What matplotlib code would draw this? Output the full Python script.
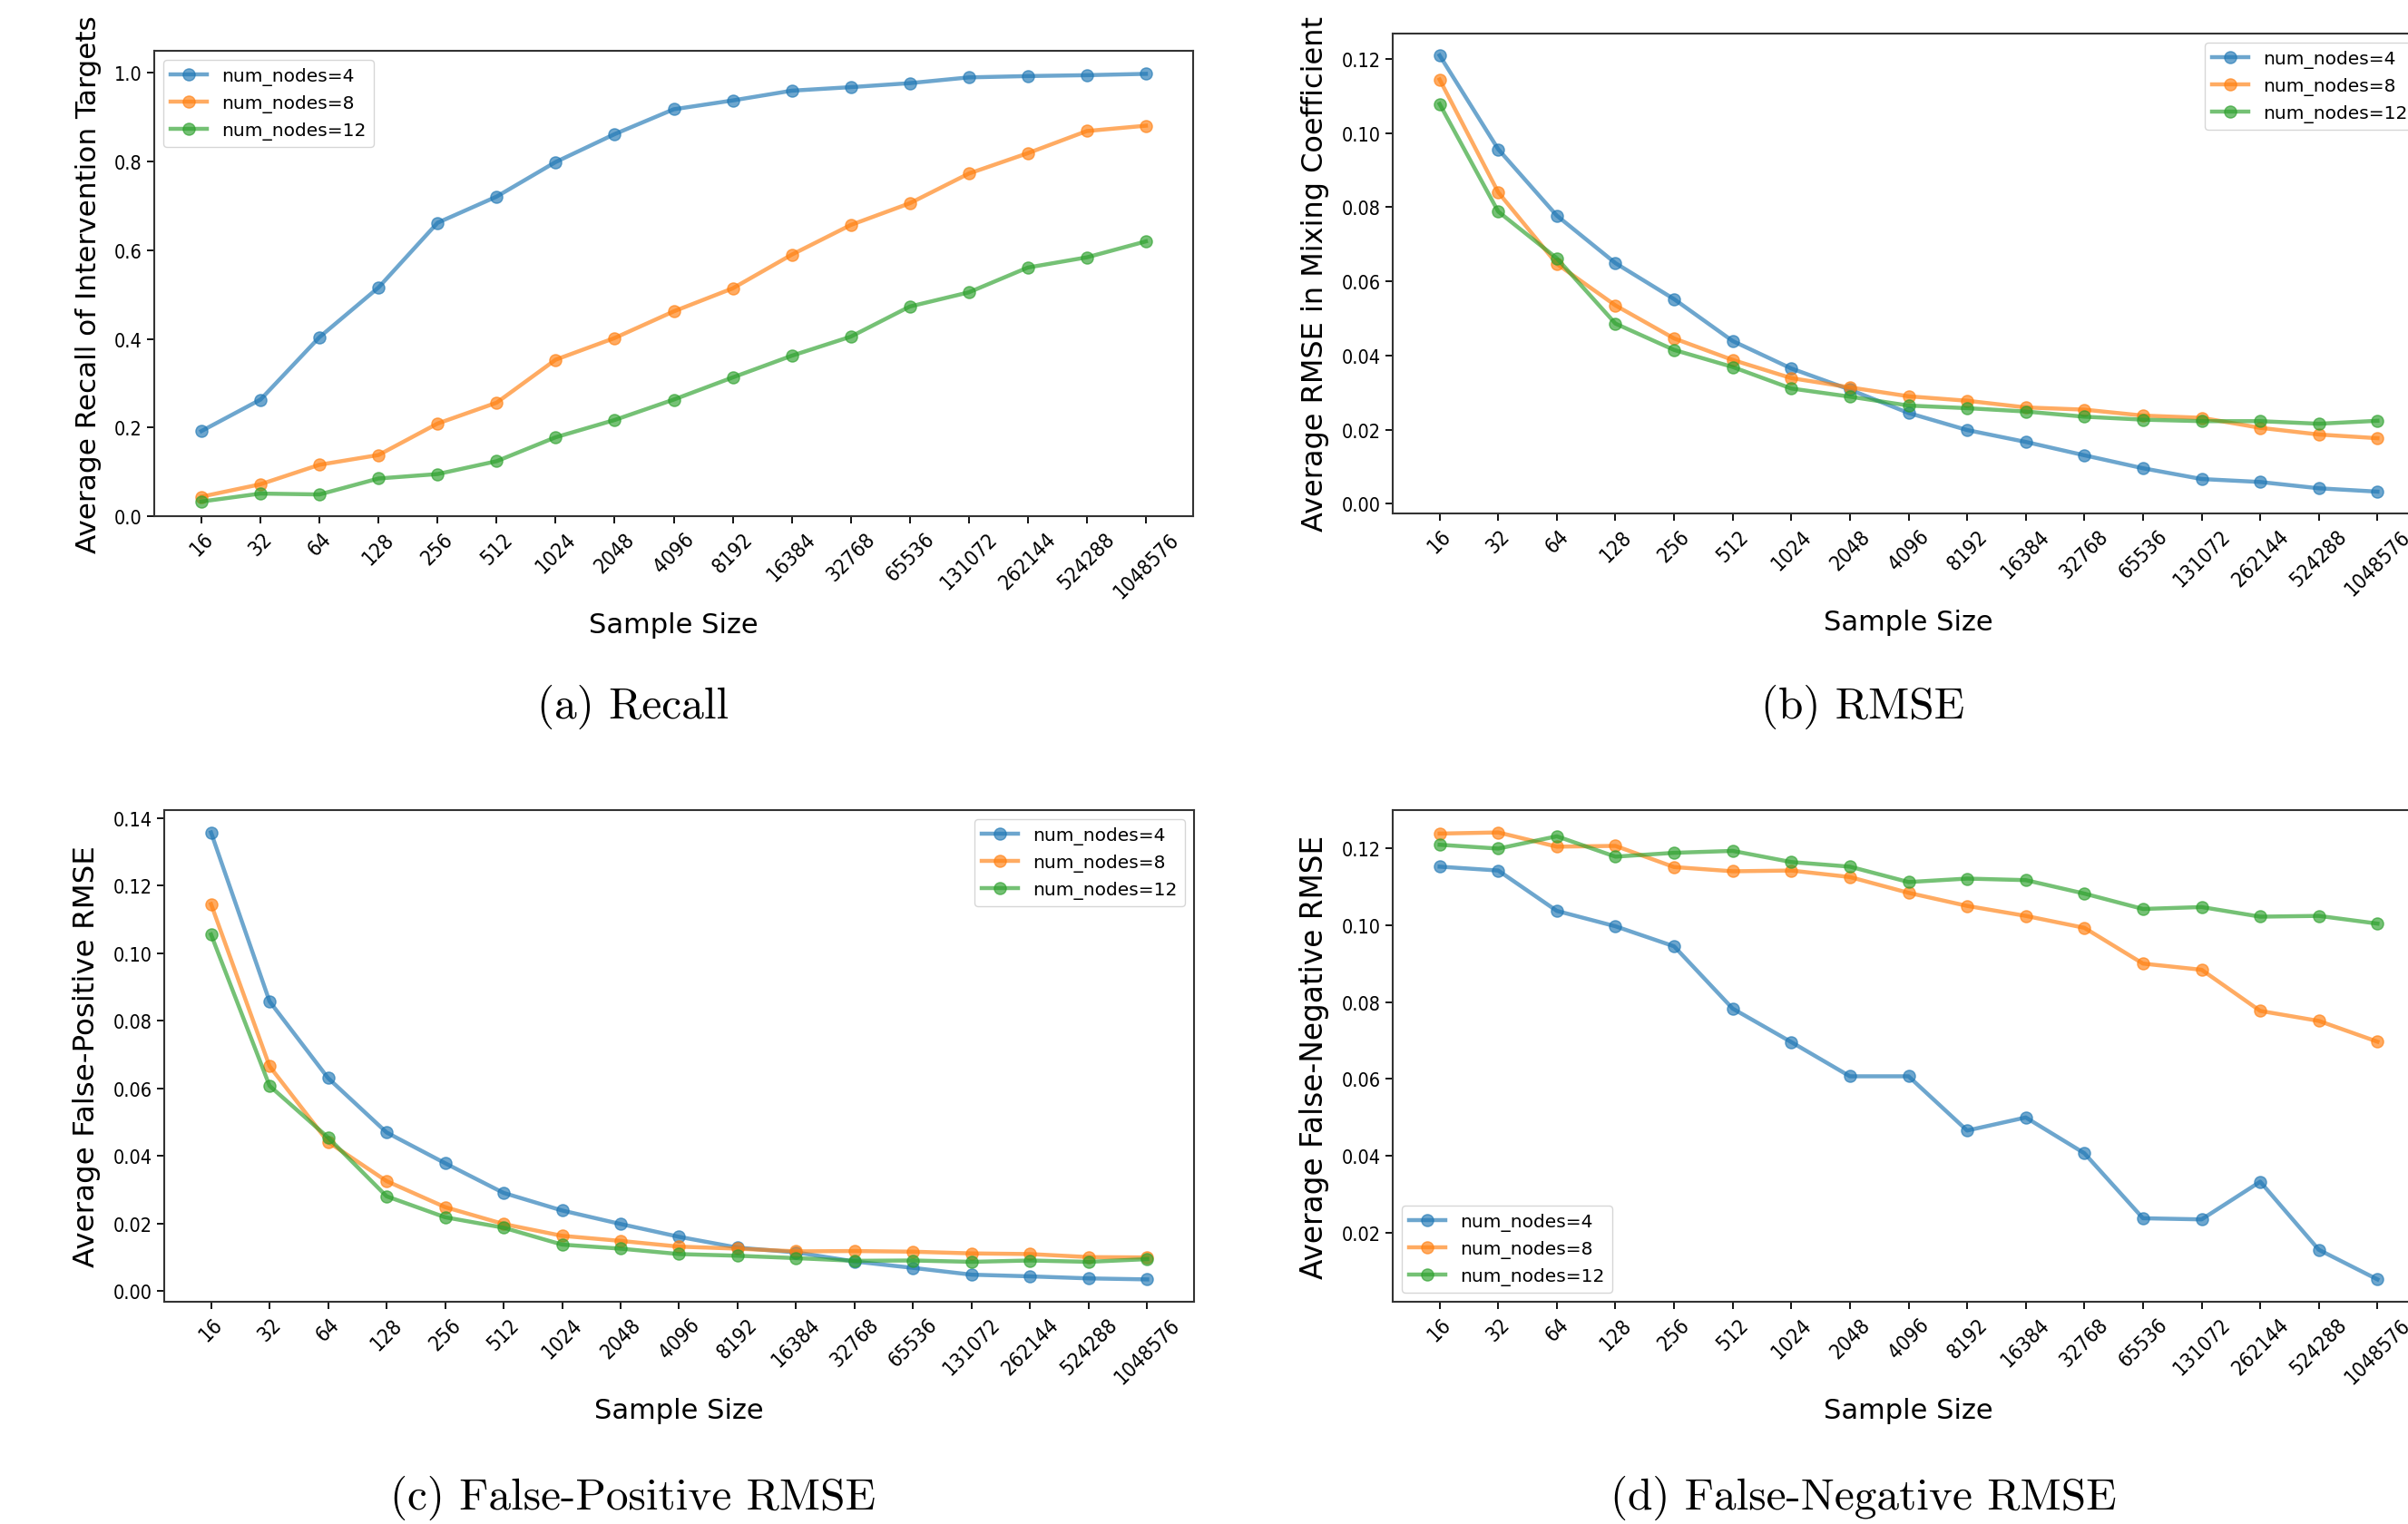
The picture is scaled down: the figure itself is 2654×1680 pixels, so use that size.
import matplotlib
matplotlib.use("Agg")
import matplotlib.pyplot as plt

plt.rcParams['font.family'] = ['DejaVu Sans']
# tick labels in the source look a bit narrow
plt.rcParams['font.stretch'] = 'condensed'

# sample sizes (categorical x axis)
sample_sizes = ['16', '32', '64', '128', '256', '512', '1024', '2048', '4096', '8192',
                '16384', '32768', '65536', '131072', '262144', '524288', '1048576']
series_labels = ['num_nodes=4', 'num_nodes=8', 'num_nodes=12']

# (a) recall
recall_4 = [0.192, 0.263, 0.404, 0.516, 0.662, 0.721, 0.799, 0.862, 0.918, 0.938,
            0.960, 0.968, 0.977, 0.990, 0.993, 0.995, 0.998]
recall_8 = [0.044, 0.072, 0.116, 0.138, 0.209, 0.256, 0.353, 0.402, 0.462, 0.514,
            0.590, 0.657, 0.706, 0.773, 0.819, 0.869, 0.881]
recall_12 = [0.033, 0.051, 0.049, 0.085, 0.095, 0.124, 0.178, 0.217, 0.263, 0.313,
             0.362, 0.405, 0.473, 0.505, 0.561, 0.584, 0.620]

# (b) rmse in mixing coefficient
rmse_4 = [0.1209, 0.0956, 0.0777, 0.0649, 0.0552, 0.0439, 0.0365, 0.0308, 0.0245, 0.0199,
          0.0167, 0.0131, 0.0096, 0.0067, 0.0059, 0.0042, 0.0033]
rmse_8 = [0.1144, 0.0840, 0.0647, 0.0535, 0.0446, 0.0388, 0.0339, 0.0314, 0.0290, 0.0278,
          0.0260, 0.0254, 0.0238, 0.0232, 0.0205, 0.0187, 0.0177]
rmse_12 = [0.1078, 0.0788, 0.0662, 0.0486, 0.0415, 0.0369, 0.0311, 0.0289, 0.0265, 0.0258,
           0.0249, 0.0235, 0.0227, 0.0223, 0.0223, 0.0216, 0.0224]

# (c) false-positive rmse
fp_4 = [0.1358, 0.0858, 0.0631, 0.0470, 0.0379, 0.0291, 0.0239, 0.0199, 0.0161, 0.0129,
        0.0115, 0.0088, 0.0069, 0.0049, 0.0044, 0.0038, 0.0035]
fp_8 = [0.1146, 0.0666, 0.0442, 0.0326, 0.0249, 0.0199, 0.0164, 0.0149, 0.0132, 0.0126,
        0.0118, 0.0119, 0.0117, 0.0112, 0.0110, 0.0101, 0.0100]
fp_12 = [0.1056, 0.0608, 0.0455, 0.0281, 0.0219, 0.0188, 0.0138, 0.0126, 0.0110, 0.0105,
         0.0098, 0.0090, 0.0091, 0.0087, 0.0091, 0.0087, 0.0095]

# (d) false-negative rmse
fn_4 = [0.1152, 0.1142, 0.1037, 0.0997, 0.0945, 0.0783, 0.0696, 0.0607, 0.0607, 0.0466,
        0.0500, 0.0407, 0.0238, 0.0235, 0.0333, 0.0156, 0.0079]
fn_8 = [0.1238, 0.1241, 0.1204, 0.1206, 0.1151, 0.1140, 0.1142, 0.1125, 0.1084, 0.1050,
        0.1024, 0.0993, 0.0900, 0.0884, 0.0777, 0.0751, 0.0697]
fn_12 = [0.1209, 0.1199, 0.1231, 0.1178, 0.1188, 0.1193, 0.1164, 0.1152, 0.1112, 0.1121,
         0.1117, 0.1082, 0.1042, 0.1047, 0.1022, 0.1024, 0.1004]

W, H = 2654, 1681
fig = plt.figure(figsize=(W / 100, H / 100), dpi=100)


def add_panel(left, right, top, bottom):
    return fig.add_axes([left / W, 1 - bottom / H, (right - left) / W, (bottom - top) / H])


def draw(ax, ys, ylabel, ylabel_size, legend_loc, caption, cap_x, cap_y):
    for y, lab in zip(ys, series_labels):
        ax.plot(sample_sizes, y, marker='o', linewidth=3.2, markersize=9.5,
                alpha=0.65, label=lab)
    ax.set_xlabel('Sample Size', fontsize=22, labelpad=8, fontstretch='normal')
    ax.set_ylabel(ylabel, fontsize=ylabel_size, labelpad=10, fontstretch='normal')
    ax.tick_params(axis='both', labelsize=15.5, length=6, width=1.3)
    ax.tick_params(axis='x', labelrotation=45, labelsize=16.5)
    for s in ax.spines.values():
        s.set_linewidth(1.5)
        s.set_color('#333333')
    ax.legend(loc=legend_loc, prop={'size': 14.5, 'stretch': 'normal'})
    fig.text(cap_x / W, 1 - cap_y / H, caption, family='cmr10', fontsize=35.5,
             ha='center', va='baseline')


ax_a = add_panel(170, 1315, 57, 570)
draw(ax_a, [recall_4, recall_8, recall_12], 'Average Recall of Intervention Targets', 22.4,
     'upper left', '(a) Recall', 698, 792)
ax_a.set_ylim(0, 1.05)

ax_b = add_panel(1535, 2672, 38, 567)
draw(ax_b, [rmse_4, rmse_8, rmse_12], 'Average RMSE in Mixing Coefficient', 23,
     'upper right', '(b) RMSE', 2053, 792)

ax_c = add_panel(181, 1316, 894, 1436)
draw(ax_c, [fp_4, fp_8, fp_12], 'Average False-Positive RMSE', 23.4,
     'upper right', '(c) False-Positive RMSE', 698, 1664)

ax_d = add_panel(1535, 2672, 894, 1436)
draw(ax_d, [fn_4, fn_8, fn_12], 'Average False-Negative RMSE', 23.6,
     'lower left', '(d) False-Negative RMSE', 2054, 1664)

fig.savefig('out.png', dpi=100, facecolor='white')
